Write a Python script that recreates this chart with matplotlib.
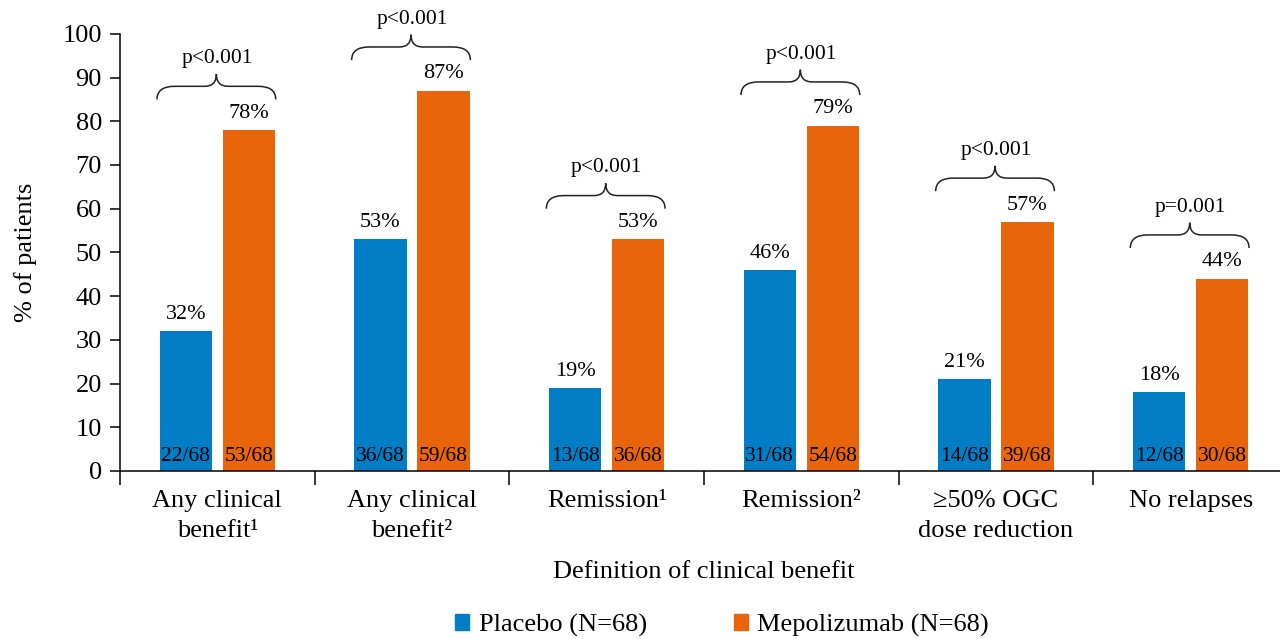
import numpy as np
import matplotlib.pyplot as plt
from matplotlib.path import Path
from matplotlib.patches import PathPatch, Patch

plt.rcParams['font.family'] = ['Liberation Serif', 'DejaVu Serif']

categories = ['Any clinical\nbenefit\u00b9', 'Any clinical\nbenefit\u00b2', 'Remission\u00b9',
              'Remission\u00b2', '\u226550% OGC\ndose reduction', 'No relapses']
placebo = [32, 53, 19, 46, 21, 18]
mepo = [78, 87, 53, 79, 57, 44]
placebo_n = ['22/68', '36/68', '13/68', '31/68', '14/68', '12/68']
mepo_n = ['53/68', '59/68', '36/68', '54/68', '39/68', '30/68']
pvals = ['p<0.001', 'p<0.001', 'p<0.001', 'p<0.001', 'p<0.001', 'p=0.001']

blue = '#007DC5'
orange = '#E8650C'

fig = plt.figure(figsize=(12.8, 6.39), dpi=100)
ax = fig.add_axes([120/1280, 0.263, 1168/1280, 0.684])

x = np.arange(len(categories))
off = 0.162
w = 0.27
ax.bar(x - off, placebo, w, color=blue)
ax.bar(x + off, mepo, w, color=orange)

for i in range(len(x)):
    ax.text(x[i] - off, 2.3, placebo_n[i], ha='center', va='baseline', fontsize=15.5)
    ax.text(x[i] + off, 2.3, mepo_n[i], ha='center', va='baseline', fontsize=15.5)
    ax.text(x[i] - off, placebo[i] + 2.8, '%d%%' % placebo[i], ha='center', va='baseline', fontsize=16)
    ax.text(x[i] + off, mepo[i] + 2.8, '%d%%' % mepo[i], ha='center', va='baseline', fontsize=16)
    # curly brace above the pair
    top = max(placebo[i], mepo[i])
    yb, yl, yc = top + 7.0, top + 10.0, top + 12.8
    x0, x1, xc = x[i] - 0.31, x[i] + 0.30, x[i] - 0.005
    r, r2 = 0.09, 0.06
    verts = [(x0, yb), (x0, yl), (x0 + r, yl), (xc - r2, yl), (xc, yl), (xc, yc),
             (xc, yl), (xc + r2, yl), (x1 - r, yl), (x1, yl), (x1, yb)]
    codes = [Path.MOVETO, Path.CURVE3, Path.CURVE3, Path.LINETO, Path.CURVE3, Path.CURVE3,
             Path.CURVE3, Path.CURVE3, Path.LINETO, Path.CURVE3, Path.CURVE3]
    ax.add_patch(PathPatch(Path(verts, codes), fill=False, lw=1.1, color='#222222', clip_on=False))
    ax.text(x[i], top + 15.3, pvals[i], ha='center', va='baseline', fontsize=15.5)

ax.set_xlim(-0.5, 5.5)
ax.set_ylim(0, 100)
ax.set_yticks(np.arange(0, 101, 10))
ax.set_xticks(x)
ax.set_xticklabels(categories, fontsize=19, linespacing=1.45)
ax.set_xticks(np.arange(-0.5, 5.0, 1.0), minor=True)
ax.tick_params(axis='x', which='major', length=0, pad=14)
ax.tick_params(axis='x', which='minor', length=10, width=1.1, direction='out')
ax.tick_params(axis='y', length=7, width=1.1, direction='out', labelsize=19, pad=6)
for s in ['top', 'right']:
    ax.spines[s].set_visible(False)
for s in ['left', 'bottom']:
    ax.spines[s].set_linewidth(1.1)
ax.set_ylabel('% of patients', fontsize=19, labelpad=18)
ax.set_xlabel('Definition of clinical benefit', fontsize=19, labelpad=14)

handles = [Patch(color=blue, label='Placebo (N=68)'), Patch(color=orange, label='Mepolizumab (N=68)')]
fig.legend(handles=handles, loc='lower center', bbox_to_anchor=(0.564, -0.034), ncol=2,
           frameon=False, fontsize=19, handlelength=0.55, handleheight=0.55,
           handletextpad=0.35, columnspacing=3.3)

fig.savefig('out.png', dpi=100)
